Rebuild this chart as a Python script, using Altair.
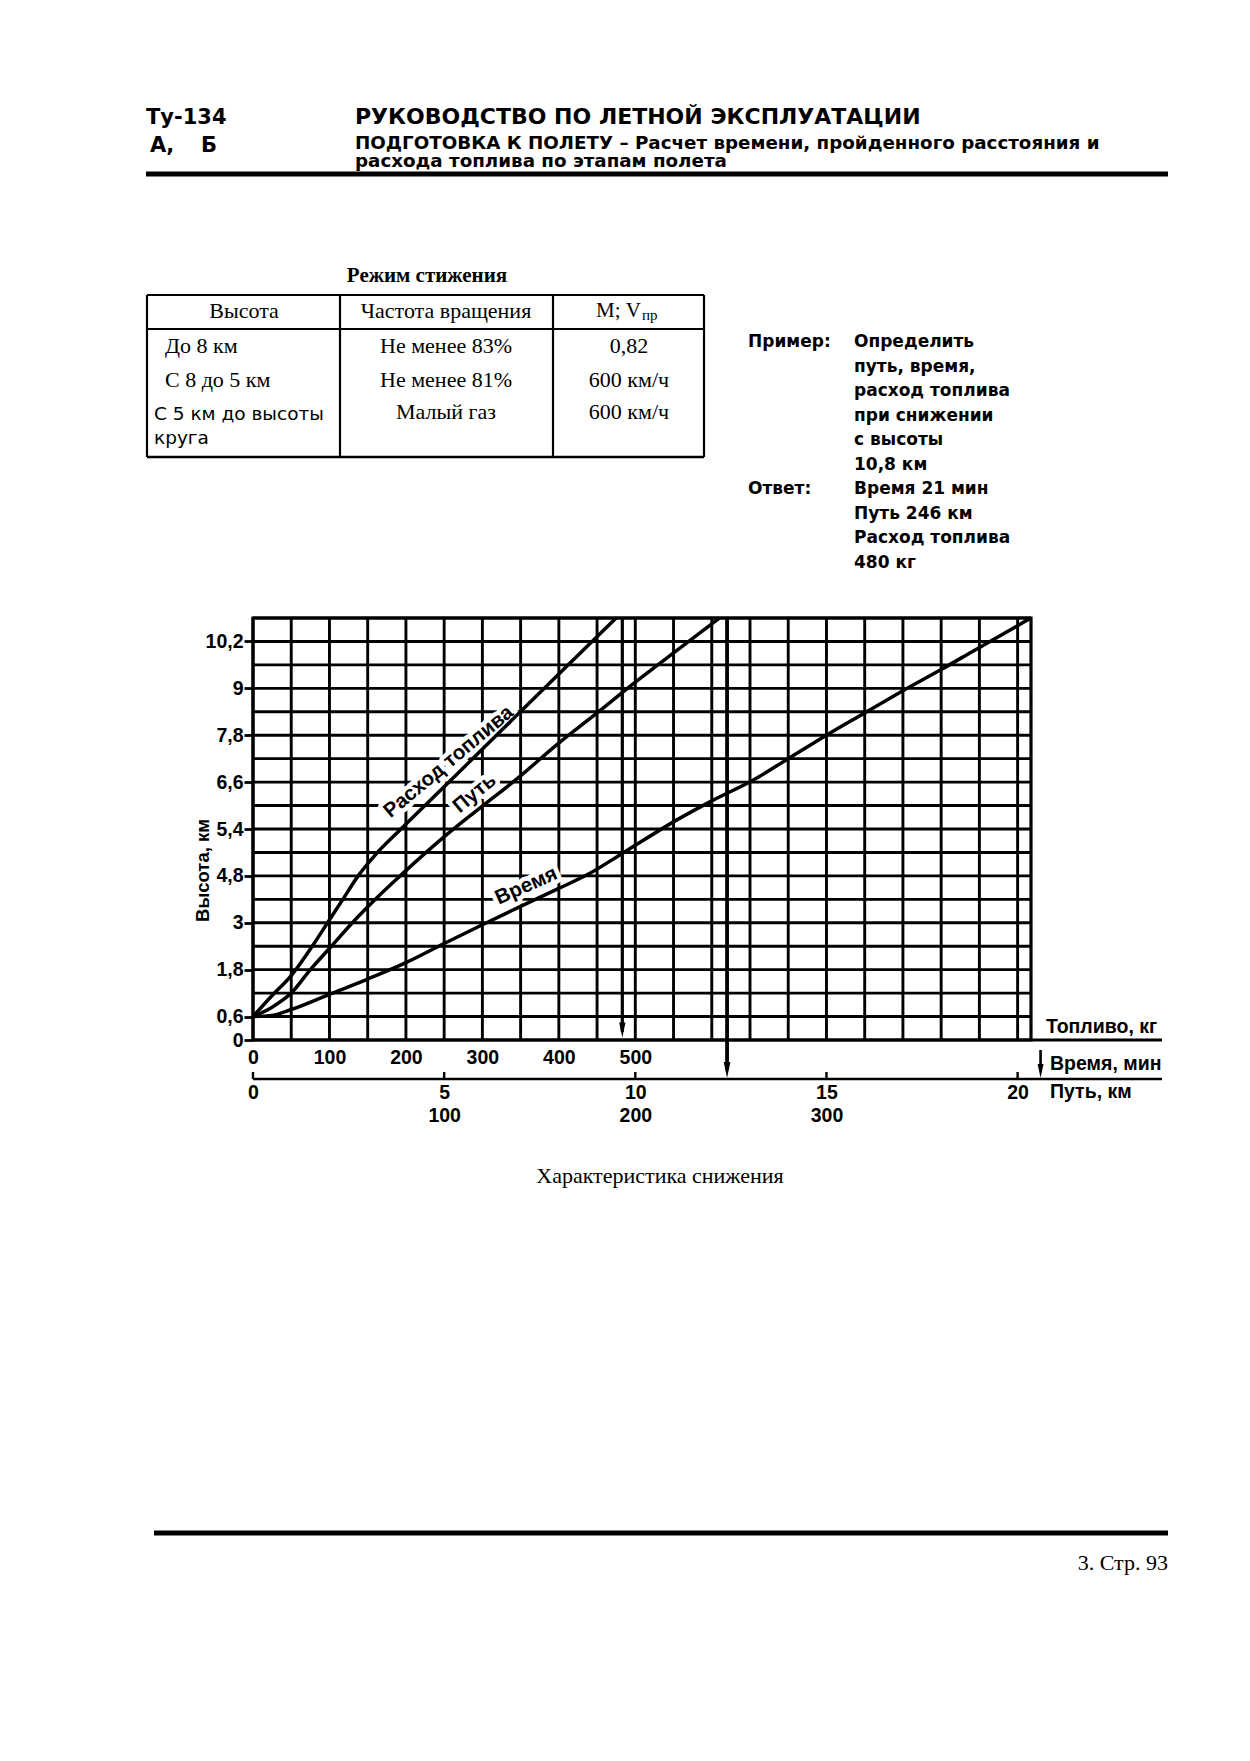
import altair as alt
import pandas as pd

# ------------------------------------------------------------------ values
height_ticks = [0, 0.6, 1.8, 3, 4.2, 5.4, 6.6, 7.8, 9, 10.2]
height_tick_labels = ["0", "0,6", "1,8", "3", "4,8", "5,4", "6,6", "7,8", "9", "10,2"]
grid_heights = [0, 0.6, 1.2, 1.8, 2.4, 3.0, 3.6, 4.2, 4.8, 5.4, 6.0, 6.6,
                7.2, 7.8, 8.4, 9.0, 9.6, 10.2, 10.8]
grid_minutes = [0, 1, 2, 3, 4, 5, 6, 7, 8, 9, 10, 11, 12, 13, 14, 15, 16, 17, 18, 19, 20]
fuel_ticks = [0, 100, 200, 300, 400, 500]
time_ticks = [0, 5, 10, 15, 20]
path_ticks = [100, 200, 300]

# curves
fuel_kg = [0, 25, 50, 77.5, 97.5, 117.5, 137.5, 160, 193.5, 250, 346.5, 410, 475]
fuel_h = [0.6, 1.14, 1.65, 2.4, 3.0, 3.6, 4.2, 4.74, 5.4, 6.48, 8.34, 9.56, 10.8]

path_km = [0, 10, 20, 30, 41, 52, 64, 77, 99, 118, 139, 159, 180, 199, 219, 244]
path_h = [0.6, 0.84, 1.2, 1.8, 2.4, 3.0, 3.6, 4.2, 5.16, 5.91, 6.72, 7.56, 8.37, 9.12, 9.87, 10.8]

time_min = [0, 0.5, 1, 2, 3, 4, 5, 6, 7, 8, 8.8, 9.7, 11.1, 12, 13.1, 14, 15, 16, 17, 18, 18.9, 20.35]
time_h = [0.6, 0.63, 0.78, 1.17, 1.56, 1.98, 2.47, 2.95, 3.42, 3.88, 4.26, 4.8, 5.64, 6.12,
          6.66, 7.2, 7.8, 8.37, 8.94, 9.48, 9.99, 10.8]

example_height = 10.8
answer_fuel_kg = 483
answer_path_km = 248
answer_time_mark = 20.6

curve_names = ["Расход топлива", "Путь", "Время"]

# page texts
header_left = ["Ту-134", "А,", "Б"]
header_title = "РУКОВОДСТВО ПО ЛЕТНОЙ ЭКСПЛУАТАЦИИ"
header_sub = ["ПОДГОТОВКА К ПОЛЕТУ – Расчет времени, пройденного расстояния и",
              "расхода топлива по этапам полета"]
table_title = "Режим стижения"
table_header = ["Высота", "Частота вращения", "М; V", "пр"]
table_col1 = ["До 8 км", "С 8 до 5 км", "С 5 км до высоты", "круга"]
table_col2 = ["Не менее 83%", "Не менее 81%", "Малый газ"]
table_col3 = ["0,82", "600 км/ч", "600 км/ч"]
example_label = "Пример:"
answer_label = "Ответ:"
example_lines = ["Определить", "путь, время,", "расход топлива", "при снижении",
                 "с высоты", "10,8 км", "Время 21 мин", "Путь 246 км",
                 "Расход топлива", "480 кг"]
axis_names = ["Топливо, кг", "Время, мин", "Путь, км"]
y_title = "Высота, км"
caption = "Характеристика снижения"
page_number = "3. Стр. 93"

# ------------------------------------------------------------------ layout
OX, OY = 253, 618
W, H = 778, 422
PAGE_W, PAGE_H = 1250, 1761
ONE = pd.DataFrame({"k": [0]})

SANS = "'Liberation Sans', Arial, Helvetica, sans-serif"
WIDE = "'DejaVu Sans', Verdana, sans-serif"
SERIF = "'Liberation Serif', 'Times New Roman', serif"

FUEL = alt.Scale(domain=[0, 1017.5], nice=False, zero=False)
TIME = alt.Scale(domain=[0, 20.35], nice=False, zero=False)
PATH = alt.Scale(domain=[0, 407], nice=False, zero=False)
YS = alt.Scale(domain=[0, 10.8], nice=False, zero=False)

label_expr = "''"
for v, lab in reversed(list(zip(height_ticks, height_tick_labels))):
    label_expr = f"abs(datum.value - {v}) < 0.001 ? '{lab}' : ({label_expr})"

Y_AXIS = alt.Axis(values=height_ticks, labelExpr=label_expr, title=y_title,
                  domain=False, grid=False, ticks=True, tickSize=9, tickWidth=2.8,
                  tickColor="black", labelFont=SANS, labelFontSize=19.5,
                  labelFontWeight="bold", labelColor="black", labelPadding=1,
                  labelOverlap=False, labelFlush=False,
                  titleFont=SANS, titleFontSize=18.5, titleFontWeight="bold",
                  titleColor="black", titleAngle=270, titleX=-51, titleY=252,
                  titleAlign="center", titleBaseline="middle")


def bottom_axis(values, offset, pad):
    return alt.Axis(values=values, orient="bottom", offset=offset, domain=False,
                    ticks=False, tickSize=0, grid=False, title=None,
                    labelFont=SANS, labelFontSize=19.5, labelFontWeight="bold",
                    labelColor="black", labelPadding=pad, labelOverlap=False,
                    labelFlush=False, labelBaseline="top")


def text_at(s, X, Y, size, font=SANS, weight="normal", align="left",
            baseline="middle"):
    return alt.Chart(ONE).mark_text(
        text=s, font=font, fontSize=size, fontWeight=weight, align=align,
        baseline=baseline, color="black").encode(
        x=alt.value(X - OX), y=alt.value(Y - OY))


def hrule(X1, X2, Y, w):
    return alt.Chart(ONE).mark_rule(color="black", strokeWidth=w).encode(
        x=alt.value(X1 - OX), x2=alt.value(X2 - OX), y=alt.value(Y - OY))


def vrule(X, Y1, Y2, w):
    return alt.Chart(ONE).mark_rule(color="black", strokeWidth=w).encode(
        x=alt.value(X - OX), y=alt.value(Y1 - OY), y2=alt.value(Y2 - OY))


layers = []

# ---- grid
layers.append(alt.Chart(pd.DataFrame({"m": grid_minutes})).mark_rule(
    color="black", strokeWidth=2.9).encode(
    x=alt.X("m:Q", scale=TIME, axis=None)))
layers.append(alt.Chart(pd.DataFrame({"h": grid_heights})).mark_rule(
    color="black", strokeWidth=2.9).encode(
    y=alt.Y("h:Q", scale=YS, axis=Y_AXIS)))

# ---- curve labels (white halo first)
label_specs = [
    (curve_names[0], "kg", 256, 7.12, FUEL, 320),
    (curve_names[1], "km", 116, 6.31, PATH, 320),
    (curve_names[2], "min", 7.15, 3.94, TIME, 336),
]
for name, unit, xv, hv, sc, ang in label_specs:
    df = pd.DataFrame({unit: [xv], "h": [hv], "t": [name]})
    layers.append(alt.Chart(df).mark_text(
        font=SANS, fontSize=20.5, fontWeight="bold", angle=ang, color="white",
        stroke="white", strokeWidth=9, strokeJoin="round").encode(
        x=alt.X(f"{unit}:Q", scale=sc, axis=None),
        y=alt.Y("h:Q", scale=YS, axis=Y_AXIS), text="t:N"))

# ---- curves
layers.append(alt.Chart(pd.DataFrame({"kg": fuel_kg, "h": fuel_h})).mark_line(
    color="black", strokeWidth=3.5, interpolate="monotone").encode(
    x=alt.X("kg:Q", scale=FUEL, axis=bottom_axis(fuel_ticks, 0, 8)),
    y=alt.Y("h:Q", scale=YS, axis=Y_AXIS)))
layers.append(alt.Chart(pd.DataFrame({"km": path_km, "h": path_h})).mark_line(
    color="black", strokeWidth=3.5, interpolate="monotone").encode(
    x=alt.X("km:Q", scale=PATH, axis=bottom_axis(path_ticks, 63, 3)),
    y=alt.Y("h:Q", scale=YS, axis=Y_AXIS)))
layers.append(alt.Chart(pd.DataFrame({"min": time_min, "h": time_h})).mark_line(
    color="black", strokeWidth=3.5, interpolate="monotone").encode(
    x=alt.X("min:Q", scale=TIME, axis=bottom_axis(time_ticks, 39, 4)),
    y=alt.Y("h:Q", scale=YS, axis=Y_AXIS)))

# ---- curve label text
for name, unit, xv, hv, sc, ang in label_specs:
    df = pd.DataFrame({unit: [xv], "h": [hv], "t": [name]})
    layers.append(alt.Chart(df).mark_text(
        font=SANS, fontSize=20.5, fontWeight="bold", angle=ang, color="black").encode(
        x=alt.X(f"{unit}:Q", scale=sc, axis=None),
        y=alt.Y("h:Q", scale=YS, axis=Y_AXIS), text="t:N"))

# ---- answer arrows
ARROW = "M -0.42 -1 L 0.42 -1 L 0 1 Z"
fa = pd.DataFrame({"kg": [answer_fuel_kg], "h": [example_height]})
layers.append(alt.Chart(fa).mark_rule(color="black", strokeWidth=3.2).encode(
    x=alt.X("kg:Q", scale=FUEL, axis=None),
    y=alt.Y("h:Q", scale=YS, axis=Y_AXIS), y2=alt.value(H - 8)))
layers.append(alt.Chart(fa).mark_point(shape=ARROW, filled=True, size=225,
                                       color="black", opacity=1, strokeWidth=0).encode(
    x=alt.X("kg:Q", scale=FUEL, axis=None), y=alt.value(H - 10)))

pa = pd.DataFrame({"km": [answer_path_km], "h": [example_height]})
layers.append(alt.Chart(pa).mark_rule(color="black", strokeWidth=3.8).encode(
    x=alt.X("km:Q", scale=PATH, axis=None),
    y=alt.Y("h:Q", scale=YS, axis=Y_AXIS), y2=alt.value(1070 - OY)))
layers.append(alt.Chart(pa).mark_point(shape=ARROW, filled=True, size=256,
                                       color="black", opacity=1, strokeWidth=0).encode(
    x=alt.X("km:Q", scale=PATH, axis=None), y=alt.value(1070 - OY)))

ta = pd.DataFrame({"min": [answer_time_mark]})
layers.append(alt.Chart(ta).mark_rule(color="black", strokeWidth=2.6).encode(
    x=alt.X("min:Q", scale=TIME, axis=None), y=alt.value(H + 10), y2=alt.value(1068 - OY)))
layers.append(alt.Chart(ta).mark_point(shape=ARROW, filled=True, size=196,
                                       color="black", opacity=1, strokeWidth=0).encode(
    x=alt.X("min:Q", scale=TIME, axis=None), y=alt.value(1071 - OY)))

# ---- axis lines below the grid
layers.append(hrule(OX + W, 1162, 1040, 2.8))
layers.append(hrule(OX, 1162, 1079, 2.6))
layers.append(alt.Chart(pd.DataFrame({"m": time_ticks})).mark_rule(
    color="black", strokeWidth=2.4).encode(
    x=alt.X("m:Q", scale=TIME, axis=None),
    y=alt.value(1072 - OY), y2=alt.value(1079 - OY)))
layers.append(text_at(axis_names[0], 1046, 1027, 19.5, weight="bold"))
layers.append(text_at(axis_names[1], 1050, 1064, 19.5, weight="bold"))
layers.append(text_at(axis_names[2], 1050, 1092, 19.5, weight="bold"))

# ---- header
layers.append(text_at(header_left[0], 146, 118, 21, font=WIDE, weight="bold"))
layers.append(text_at(header_left[1], 150, 146, 21, font=WIDE, weight="bold"))
layers.append(text_at(header_left[2], 217, 146, 21, font=WIDE, weight="bold", align="right"))
layers.append(text_at(header_title, 355, 117, 22, font=WIDE, weight="bold"))
layers.append(text_at(header_sub[0], 355, 144, 18.3, font=WIDE, weight="bold"))
layers.append(text_at(header_sub[1], 355, 162, 18.3, font=WIDE, weight="bold"))
layers.append(hrule(146, 1168, 174, 5))

# ---- table
layers.append(text_at(table_title, 427, 276, 21, font=SERIF, weight="bold", align="center"))
for yy, w in [(295, 2.2), (329, 2.2), (457, 2.6)]:
    layers.append(hrule(147, 704, yy, w))
for xx in [147, 340, 553, 704]:
    layers.append(vrule(xx, 295, 457, 2.2))
layers.append(text_at(table_header[0], 244, 311, 22, font=SERIF, align="center"))
layers.append(text_at(table_header[1], 446, 311, 22, font=SERIF, align="center"))
layers.append(text_at(table_header[2], 641, 311, 21, font=SERIF, align="right"))
layers.append(text_at(table_header[3], 642, 315, 15, font=SERIF))
row_y = [346, 380, 412]
layers.append(text_at(table_col1[0], 165, row_y[0], 22, font=SERIF))
layers.append(text_at(table_col1[1], 165, row_y[1], 22, font=SERIF))
layers.append(text_at(table_col1[2], 154, 414, 18.5, font=WIDE))
layers.append(text_at(table_col1[3], 154, 438, 18.5, font=WIDE))
for i in range(3):
    layers.append(text_at(table_col2[i], 446, row_y[i], 22, font=SERIF, align="center"))
    layers.append(text_at(table_col3[i], 629, row_y[i], 22, font=SERIF, align="center"))

# ---- example block
layers.append(text_at(example_label, 748, 342, 17, font=WIDE, weight="bold"))
layers.append(text_at(answer_label, 748, 489, 17, font=WIDE, weight="bold"))
for i, line in enumerate(example_lines):
    layers.append(text_at(line, 854, 342 + 24.5 * i, 17, font=WIDE, weight="bold"))

# ---- caption and footer
layers.append(text_at(caption, 660, 1176, 22, font=SERIF, align="center"))
layers.append(hrule(154, 1168, 1533, 5))
layers.append(text_at(page_number, 1168, 1563, 22, font=SERIF, align="right"))

chart = alt.layer(*layers).resolve_scale(x="independent").properties(
    width=W, height=H,
    autosize=alt.AutoSizeParams(type="none"),
    padding={"left": OX, "top": OY, "right": PAGE_W - OX - W, "bottom": PAGE_H - OY - H},
    background="white",
).configure_view(stroke="black", strokeWidth=3.2)

chart.save("out.html", embed_options={"renderer": "svg", "actions": False})
